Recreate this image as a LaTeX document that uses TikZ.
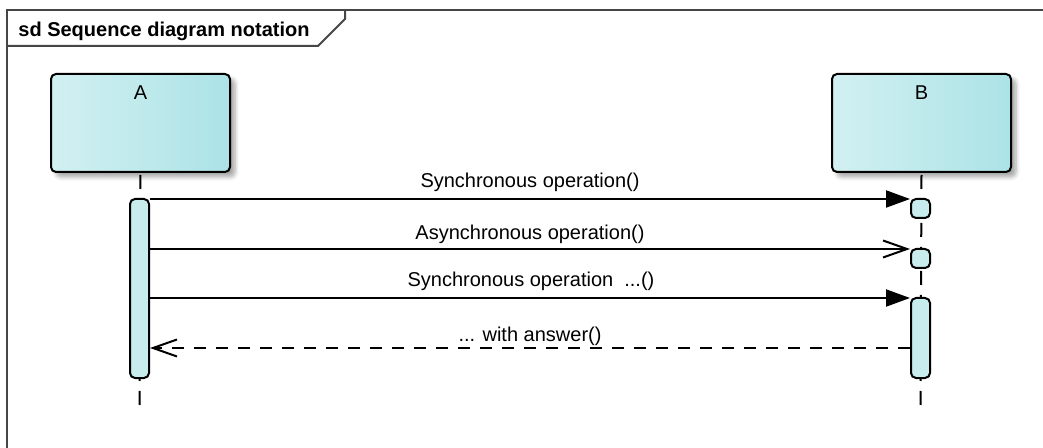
\documentclass[tikz,border=0pt]{standalone}
\usepackage{fontspec}
\setmainfont{Liberation Sans}
\usetikzlibrary{arrows.meta,shadows.blur}
\definecolor{headL}{RGB}{210,240,242}
\definecolor{headR}{RGB}{172,227,230}
\definecolor{actfill}{RGB}{200,236,238}
\definecolor{framecol}{RGB}{70,70,70}
\begin{document}
\begin{tikzpicture}[x=0.5pt,y=-0.5pt,
  every node/.style={font=\fontsize{10pt}{12pt}\selectfont},
  frameline/.style={draw=framecol, line width=1pt},
  lifehead/.style={draw=black, line width=1pt, rounded corners=2.5pt,
    left color=headL, right color=headR,
    minimum width=89.5pt, minimum height=49pt, inner sep=0pt,
    text height=13pt, text depth=36pt, anchor=north west,
    font=\fontsize{10pt}{12pt}\selectfont,
    blur shadow={shadow xshift=2.5pt, shadow yshift=-2.5pt,
      shadow blur steps=6, shadow opacity=35}},
  act/.style={draw=black, line width=1pt, fill=actfill, rounded corners=2.5pt,
    minimum width=9.5pt, inner sep=0pt, anchor=north},
  lifeline/.style={draw=black, line width=1pt, dash pattern=on 7pt off 5pt, dash phase=-1pt},
  sync/.style={draw=black, line width=1pt, -{Triangle[length=12pt,width=8.5pt]}},
  async/.style={draw=black, line width=1pt, -{Straight Barb[length=12pt,width=8.5pt]}},
  reply/.style={draw=black, line width=1pt, dash pattern=on 6pt off 5pt,
    -{Straight Barb[length=12pt,width=8.5pt]}},
  msglabel/.style={anchor=base, inner sep=0pt},
]
\useasboundingbox (0,0) rectangle (1043,448);

% frame with its name tab
\draw[frameline] (7,448) -- (7,10) -- (1043,10);
\draw[frameline] (7,46) -- (318,46) -- (345,19) -- (345,10);
\node[anchor=base west, inner sep=0pt, font=\bfseries\fontsize{10pt}{12pt}\selectfont]
  (title) at (18,37) {sd Sequence diagram notation};

% lifeline heads
\node[lifehead] (A) at (50,73) {A};
\node[lifehead] (B) at (831,73) {B};

% lifelines
\coordinate (endA) at (139.5,406);
\coordinate (endB) at (920.5,406);
\draw[lifeline] (A.south) -- (endA);
\draw[lifeline] (B.south) -- (endB);

% activation bars
\node[act, minimum height=89.5pt] (actA)  at (139.5,198) {};
\node[act, minimum height=9.5pt]  (actB1) at (920.5,198) {};
\node[act, minimum height=9.5pt]  (actB2) at (920.5,248) {};
\node[act, minimum height=40pt]   (actB3) at (920.5,297) {};

% message levels
\coordinate (m1) at (530,199);
\coordinate (m2) at (530,249);
\coordinate (m3) at (530,298);
\coordinate (m4) at (530,348);

% messages
\draw[sync]  (actA.east |- m1) -- (actB1.west |- m1);
\draw[async] (actA.east |- m2) -- (actB2.west |- m2);
\draw[sync]  (actA.east |- m3) -- (actB3.west |- m3);
\draw[reply] (actB3.west |- m4) -- (actA.east |- m4);

\node[msglabel] (l1) at (530,188) {Synchronous operation()};
\node[msglabel] (l2) at (530,240) {Asynchronous operation()};
\node[msglabel] (l3) at (531,287) {Synchronous operation\ \ ...()};
\node[msglabel] (l4) at (530,342) {... with answer()};
\end{tikzpicture}
\end{document}
